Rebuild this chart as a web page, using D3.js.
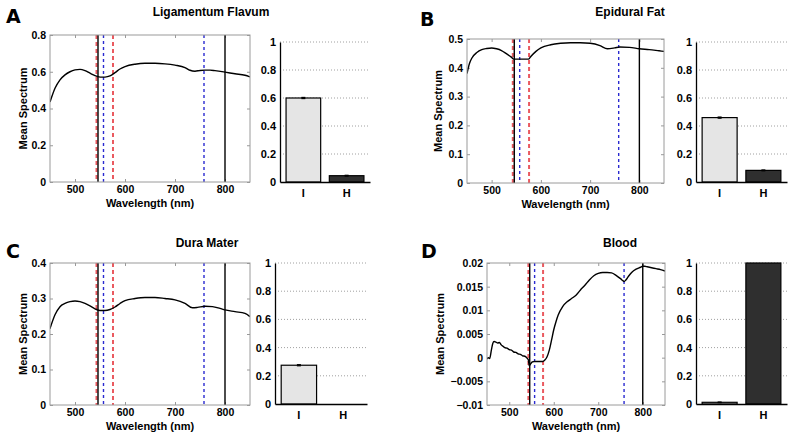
<!DOCTYPE html>
<html><head><meta charset="utf-8">
<script src="https://cdn.jsdelivr.net/npm/d3@7"></script>
<style>
body{margin:0;background:#fff}
text{font-family:"Liberation Sans",Arial,Helvetica,sans-serif;font-weight:bold;fill:#000}
</style>
</head><body><svg id="c" width="793" height="438"></svg>
<script>
// ---------- data ----------
const xTicks = [500, 600, 700, 800];
const redDashed = [543, 576];
const blueDashed = [557, 758];
const blackSolid = [546, 800];

const waveA = [450,460,470,480,490,500,510,520,530,540,545,550,560,570,580,590,600,620,640,660,680,700,720,730,740,750,760,770,780,800,820,840,850];
const specA = [0.435,0.51,0.556,0.583,0.60,0.61,0.613,0.606,0.592,0.579,0.574,0.571,0.571,0.577,0.595,0.615,0.628,0.641,0.646,0.646,0.643,0.636,0.623,0.608,0.603,0.607,0.609,0.609,0.606,0.598,0.589,0.581,0.572];
const yTicksA = [0, 0.2, 0.4, 0.6, 0.8];

const waveB = [450,455,460,470,480,490,500,510,520,530,540,545,560,575,580,590,600,620,640,660,680,700,720,735,750,760,780,800,820,840,850];
const specB = [0.38,0.415,0.434,0.453,0.463,0.467,0.469,0.466,0.46,0.449,0.437,0.43,0.43,0.43,0.44,0.457,0.469,0.48,0.485,0.487,0.487,0.485,0.477,0.466,0.469,0.472,0.471,0.466,0.463,0.459,0.457];
const yTicksB = [0, 0.1, 0.2, 0.3, 0.4, 0.5];

const waveC = [450,460,470,480,490,500,510,520,530,540,550,560,570,580,590,600,620,640,660,680,700,720,735,745,760,775,790,800,820,840,850];
const specC = [0.215,0.254,0.277,0.286,0.291,0.293,0.291,0.286,0.279,0.271,0.266,0.266,0.269,0.276,0.286,0.294,0.300,0.303,0.303,0.300,0.296,0.286,0.274,0.275,0.278,0.277,0.272,0.268,0.263,0.258,0.249];
const yTicksC = [0, 0.1, 0.2, 0.3, 0.4];

const waveD = [450,453,456,460,463,466,470,474,478,482,486,490,495,500,505,510,515,520,525,530,535,540,543,545,548,552,556,565,575,580,585,590,595,600,605,610,620,630,640,650,660,670,680,690,700,710,720,730,740,750,755,758,762,768,775,785,795,800,805,810,820,830,840,850];
const specD = [-0.0003,0.0000,-0.0002,0.0017,0.0030,0.0034,0.0033,0.0031,0.0032,0.0027,0.0024,0.0021,0.0020,0.0017,0.0016,0.0012,0.0011,0.0008,0.0007,0.0004,0.0003,-0.0001,-0.0005,-0.0017,-0.0013,-0.0009,-0.0008,-0.0008,-0.0008,-0.0005,0.0002,0.0016,0.0037,0.0059,0.0076,0.0090,0.0108,0.0118,0.0125,0.0132,0.0143,0.0153,0.0164,0.0173,0.0178,0.0180,0.0180,0.0179,0.0174,0.0167,0.0163,0.0161,0.0164,0.0172,0.0180,0.0187,0.0191,0.0193,0.0193,0.0192,0.0190,0.0188,0.0186,0.0183];
const yTicksD = [-0.01, -0.005, 0, 0.005, 0.01, 0.015, 0.02];

const barCategories = ["I", "H"];
const barTicks = [0, 0.2, 0.4, 0.6, 0.8, 1];
const barA = [0.60, 0.045], errA = [0.004, 0.003];
const barB = [0.46, 0.083], errB = [0.004, 0.003];
const barC = [0.275, 0], errC = [0.004, 0];
const barD = [0.012, 1.0], errD = [0.002, 0];

const titles = ["Ligamentum Flavum", "Epidural Fat", "Dura Mater", "Blood"];
const letters = ["A", "B", "C", "D"];

// ---------- layout ----------
const svg = d3.select("#c");
const panels = [
  {wave: waveA, spec: specA, yt: yTicksA, bars: barA, err: errA,
   L: {x0: 50, x1: 250, y0: 35, y1: 182}, B: {x0: 280, x1: 370, y0: 42, y1: 182},
   letter: [6, 23], title: [211, 16], ylab: 23},
  {wave: waveB, spec: specB, yt: yTicksB, bars: barB, err: errB,
   L: {x0: 467, x1: 664, y0: 39, y1: 183}, B: {x0: 696, x1: 787, y0: 42, y1: 182},
   letter: [420, 26], title: [630, 16], ylab: 438},
  {wave: waveC, spec: specC, yt: yTicksC, bars: barC, err: errC,
   L: {x0: 50, x1: 250, y0: 263, y1: 405}, B: {x0: 275, x1: 367, y0: 263, y1: 404},
   letter: [6, 258], title: [207, 247], ylab: 23},
  {wave: waveD, spec: specD, yt: yTicksD, bars: barD, err: errD,
   L: {x0: 487, x1: 665, y0: 263, y1: 405}, B: {x0: 696, x1: 787, y0: 263, y1: 404},
   letter: [421, 258], title: [620, 247], ylab: 440}
];

const fmt = v => v < 0 ? "\u2212" + String(Math.abs(v)) : String(v);
const tickFont = sel => sel.style("font-size", "10.5px").style("font-family", "'Liberation Sans',Arial,sans-serif").style("font-weight", "bold").attr("fill", "#000");

panels.forEach((p, i) => {
  const g = svg.append("g");
  const L = p.L;
  const x = d3.scaleLinear().domain([450, 850]).range([L.x0, L.x1]);
  const y = d3.scaleLinear().domain([p.yt[0], p.yt[p.yt.length - 1]]).range([L.y1, L.y0]);

  // letter & title
  g.append("text").attr("x", p.letter[0]).attr("y", p.letter[1])
    .style("font-family", "'DejaVu Sans',sans-serif").style("font-size", "19px").text(letters[i]);
  g.append("text").attr("x", p.title[0]).attr("y", p.title[1]).attr("text-anchor", "middle")
    .style("font-size", "12px").text(titles[i]);

  // clip
  const cid = "clip" + i;
  svg.append("clipPath").attr("id", cid).append("rect")
    .attr("x", L.x0).attr("y", L.y0).attr("width", L.x1 - L.x0).attr("height", L.y1 - L.y0);

  // axes (ticks inward)
  const styleAxis = sel => {
    sel.select(".domain").remove();
    sel.selectAll(".tick line").attr("stroke", "#999");
    sel.selectAll(".tick text").call(tickFont);
  };
  g.append("g").attr("transform", `translate(0,${L.y1})`)
    .call(d3.axisBottom(x).tickValues(xTicks).tickSizeInner(-3).tickSizeOuter(0).tickPadding(4).tickFormat(d3.format("d")))
    .call(styleAxis);
  g.append("g").attr("transform", `translate(0,${L.y0})`)
    .call(d3.axisTop(x).tickValues(xTicks).tickSizeInner(-3).tickSizeOuter(0).tickFormat(""))
    .call(styleAxis);
  g.append("g").attr("transform", `translate(${L.x0},0)`)
    .call(d3.axisLeft(y).tickValues(p.yt).tickSizeInner(-3).tickSizeOuter(0).tickPadding(4).tickFormat(fmt))
    .call(styleAxis);
  g.append("g").attr("transform", `translate(${L.x1},0)`)
    .call(d3.axisRight(y).tickValues(p.yt).tickSizeInner(-3).tickSizeOuter(0).tickFormat(""))
    .call(styleAxis);

  // vertical marker lines
  const vl = g.append("g").attr("clip-path", `url(#${cid})`);
  vl.selectAll(".r").data(redDashed).join("line")
    .attr("x1", d => x(d)).attr("x2", d => x(d)).attr("y1", L.y0).attr("y2", L.y1)
    .attr("stroke", "#ea5a60").attr("stroke-width", 2).attr("stroke-dasharray", "4,3");
  vl.selectAll(".b").data(blueDashed).join("line")
    .attr("x1", d => x(d)).attr("x2", d => x(d)).attr("y1", L.y0).attr("y2", L.y1)
    .attr("stroke", "#2a2ad0").attr("stroke-width", 1.4).attr("stroke-dasharray", "3,3");
  vl.selectAll(".k").data(blackSolid).join("line")
    .attr("x1", d => x(d)).attr("x2", d => x(d)).attr("y1", L.y0).attr("y2", L.y1)
    .attr("stroke", "#000").attr("stroke-width", 1.4);

  // spectrum curve
  const pts = p.wave.map((w, k) => [w, p.spec[k]]);
  g.append("path").datum(pts).attr("clip-path", `url(#${cid})`)
    .attr("fill", "none").attr("stroke", "#000").attr("stroke-width", 1.4)
    .attr("d", d3.line().x(d => x(d[0])).y(d => y(d[1])).curve(d3.curveMonotoneX));

  // box
  g.append("rect").attr("x", L.x0).attr("y", L.y0).attr("width", L.x1 - L.x0).attr("height", L.y1 - L.y0)
    .attr("fill", "none").attr("stroke", "#9a9a9a").attr("stroke-width", 1);

  // axis labels
  g.append("text").attr("transform", `translate(${p.ylab},${(L.y0 + L.y1) / 2}) rotate(-90)`)
    .attr("text-anchor", "middle").attr("dy", "0.35em").style("font-size", "11px").text("Mean Spectrum");
  g.append("text").attr("x", (L.x0 + L.x1) / 2).attr("y", L.y1 + 25).attr("text-anchor", "middle")
    .style("font-size", "11px").text("Wavelength (nm)");

  // ---------- bar chart ----------
  const B = p.B;
  const bx = d3.scaleBand().domain(barCategories).range([B.x0, B.x1]).paddingInner(0.2).paddingOuter(0.14);
  const by = d3.scaleLinear().domain([0, 1]).range([B.y1, B.y0]);
  const bg = svg.append("g");
  // grid
  bg.selectAll(".grid").data(barTicks.filter(t => t > 0)).join("line")
    .attr("x1", B.x0).attr("x2", B.x1).attr("y1", d => by(d)).attr("y2", d => by(d))
    .attr("stroke", "#888").attr("stroke-width", 0.8).attr("stroke-dasharray", "1,2");
  // bars
  bg.selectAll(".bar").data(p.bars).join("rect")
    .attr("x", (d, k) => bx(barCategories[k])).attr("width", bx.bandwidth())
    .attr("y", d => by(d)).attr("height", d => by(0) - by(d))
    .attr("fill", (d, k) => k === 0 ? "#e5e5e5" : "#2f2f2f")
    .attr("stroke", "#000").attr("stroke-width", d => d > 0 ? 1.2 : 0);
  // error bars
  p.bars.forEach((v, k) => {
    if (p.err[k] <= 0) return;
    const cx = bx(barCategories[k]) + bx.bandwidth() / 2;
    bg.append("line").attr("x1", cx).attr("x2", cx).attr("y1", by(v - p.err[k])).attr("y2", by(v + p.err[k]))
      .attr("stroke", "#000").attr("stroke-width", 1.2);
    [v - p.err[k], v + p.err[k]].forEach(e => bg.append("line").attr("x1", cx - 2).attr("x2", cx + 2)
      .attr("y1", by(e)).attr("y2", by(e)).attr("stroke", "#000").attr("stroke-width", 1.2));
  });
  // axes
  bg.append("g").attr("transform", `translate(${B.x0},0)`)
    .call(d3.axisLeft(by).tickValues(barTicks).tickSize(0).tickPadding(4).tickFormat(d => String(d)))
    .call(s => { s.select(".domain").attr("stroke", "#000").attr("stroke-width", 1.3);
      s.selectAll(".tick text").call(tickFont).style("font-size", "11px"); });
  bg.append("g").attr("transform", `translate(0,${B.y1})`)
    .call(d3.axisBottom(bx).tickSize(0).tickPadding(7))
    .call(s => { s.select(".domain").attr("stroke", "#000").attr("stroke-width", 1.3);
      s.selectAll(".tick text").call(tickFont).style("font-size", "11px"); });
});
</script>
</body></html>
